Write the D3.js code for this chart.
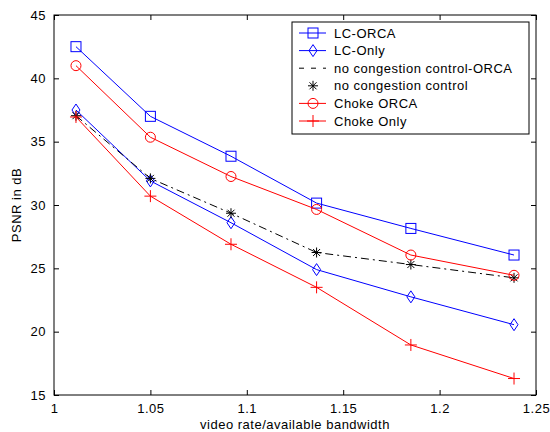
<!DOCTYPE html>
<html>
<head>
<meta charset="utf-8">
<script src="https://cdn.jsdelivr.net/npm/d3@7"></script>
<style>
  body { margin: 0; background: #fff; }
  svg text { font-family: "Liberation Sans", Arial, sans-serif; font-size: 13px; letter-spacing: 0.5px; fill: #000; }
</style>
</head>
<body>
<div id="chart"></div>
<script>
// data
var rates = [1.0114, 1.05, 1.0918, 1.1362, 1.1851, 1.2386];
var lcOrca = [42.5, 37.0, 33.85, 30.15, 28.15, 26.05];
var lcOnly = [37.5, 31.9, 28.6, 24.9, 22.75, 20.55];
var noCcOrca = [37.05, 32.1, 29.35, 26.25, 25.3, 24.25];
var noCc = [37.05, 32.1, 29.35, 26.25, 25.3, 24.25];
var chokeOrca = [41.0, 35.35, 32.25, 29.65, 26.05, 24.45];
var chokeOnly = [36.95, 30.7, 26.9, 23.5, 18.95, 16.3];

var xTicks = [1, 1.05, 1.1, 1.15, 1.2, 1.25];
var yTicks = [15, 20, 25, 30, 35, 40, 45];

var series = [
  {name: 'LC-ORCA', values: lcOrca, color: '#0000ff', line: true, marker: 'square'},
  {name: 'LC-Only', values: lcOnly, color: '#0000ff', line: true, marker: 'diamond'},
  {name: 'no congestion control-ORCA', values: noCcOrca, color: '#000', line: true, dash: '8,4,2,4', marker: null},
  {name: 'no congestion control', values: noCc, color: '#000', line: false, marker: 'star'},
  {name: 'Choke ORCA', values: chokeOrca, color: '#ff0000', line: true, marker: 'circle'},
  {name: 'Choke Only', values: chokeOnly, color: '#ff0000', line: true, marker: 'plus'}
];

var W = 550, H = 432;
var pl = 54, pt = 15, pr = 536, pb = 395;

var svg = d3.select('#chart').append('svg')
  .attr('width', W).attr('height', H);

var x = d3.scaleLinear().domain([1, 1.25]).range([pl, pr]);
var y = d3.scaleLinear().domain([15, 45]).range([pb, pt]);

// box + inward ticks
svg.append('rect')
  .attr('x', pl).attr('y', pt)
  .attr('width', pr - pl).attr('height', pb - pt)
  .attr('fill', 'none').attr('stroke', '#000').attr('stroke-width', 1);

var fmt = function(d){ return String(+d.toFixed(2)); };

svg.append('g').attr('transform', 'translate(0,' + pb + ')')
  .call(d3.axisBottom(x).tickValues(xTicks).tickSize(-5).tickPadding(9).tickFormat(fmt))
  .call(function(g){ g.select('.domain').remove(); });
svg.append('g').attr('transform', 'translate(0,' + pt + ')')
  .call(d3.axisTop(x).tickValues(xTicks).tickSize(-5).tickFormat(''))
  .call(function(g){ g.select('.domain').remove(); });
svg.append('g').attr('transform', 'translate(' + pl + ',0)')
  .call(d3.axisLeft(y).tickValues(yTicks).tickSize(-5).tickPadding(8).tickFormat(fmt))
  .call(function(g){ g.select('.domain').remove(); });
svg.append('g').attr('transform', 'translate(' + pr + ',0)')
  .call(d3.axisRight(y).tickValues(yTicks).tickSize(-5).tickFormat(''))
  .call(function(g){ g.select('.domain').remove(); });

svg.selectAll('.tick text').style('font-size', '13px').style('font-family', '"Liberation Sans", Arial, sans-serif');
svg.selectAll('.tick line').attr('stroke', '#000');

// axis labels
svg.append('text')
  .attr('x', (pl + pr) / 2).attr('y', 429)
  .attr('text-anchor', 'middle')
  .text('video rate/available bandwidth');
svg.append('text')
  .attr('transform', 'translate(21,' + ((pt + pb) / 2) + ') rotate(-90)')
  .attr('text-anchor', 'middle')
  .text('PSNR in dB');

function drawMarker(g, type, cx, cy, color) {
  if (type === 'square') {
    g.append('rect').attr('x', cx - 5).attr('y', cy - 5).attr('width', 10).attr('height', 10)
      .attr('fill', 'none').attr('stroke', color);
  } else if (type === 'circle') {
    g.append('circle').attr('cx', cx).attr('cy', cy).attr('r', 5)
      .attr('fill', 'none').attr('stroke', color);
  } else if (type === 'diamond') {
    g.append('path').attr('d', 'M' + cx + ',' + (cy - 6) + 'L' + (cx + 4) + ',' + cy + 'L' + cx + ',' + (cy + 6) + 'L' + (cx - 4) + ',' + cy + 'Z')
      .attr('fill', 'none').attr('stroke', color);
  } else if (type === 'plus') {
    g.append('path').attr('d', 'M' + (cx - 6) + ',' + cy + 'H' + (cx + 6) + 'M' + cx + ',' + (cy - 6) + 'V' + (cy + 6))
      .attr('fill', 'none').attr('stroke', color);
  } else if (type === 'star') {
    g.append('path').attr('d', 'M' + (cx - 5) + ',' + cy + 'H' + (cx + 5) + 'M' + cx + ',' + (cy - 5) + 'V' + (cy + 5) +
      'M' + (cx - 3.5) + ',' + (cy - 3.5) + 'L' + (cx + 3.5) + ',' + (cy + 3.5) +
      'M' + (cx - 3.5) + ',' + (cy + 3.5) + 'L' + (cx + 3.5) + ',' + (cy - 3.5))
      .attr('fill', 'none').attr('stroke', color);
  }
}

var line = d3.line()
  .x(function(d, i){ return x(rates[i]); })
  .y(function(d){ return y(d); });

series.forEach(function(s) {
  var g = svg.append('g');
  if (s.line) {
    g.append('path').datum(s.values)
      .attr('d', line)
      .attr('fill', 'none')
      .attr('stroke', s.color)
      .attr('stroke-width', 1)
      .attr('stroke-dasharray', s.dash || null);
  }
  if (s.marker) {
    s.values.forEach(function(v, i) {
      drawMarker(g, s.marker, x(rates[i]), y(v), s.color);
    });
  }
});

// legend
var lg = svg.append('g');
lg.append('rect')
  .attr('x', 292).attr('y', 22).attr('width', 237).attr('height', 112)
  .attr('fill', '#fff').attr('stroke', '#000');
series.forEach(function(s, i) {
  var ly = 33 + i * 17.6;
  if (s.line) {
    lg.append('line').attr('x1', 299).attr('x2', 326).attr('y1', ly).attr('y2', ly)
      .attr('stroke', s.color).attr('stroke-dasharray', s.dash ? '5,7' : null);
  }
  if (s.marker) drawMarker(lg, s.marker, 313, ly, s.color);
  lg.append('text').attr('x', 334).attr('y', ly + 4.5).text(s.name);
});
</script>
</body>
</html>
